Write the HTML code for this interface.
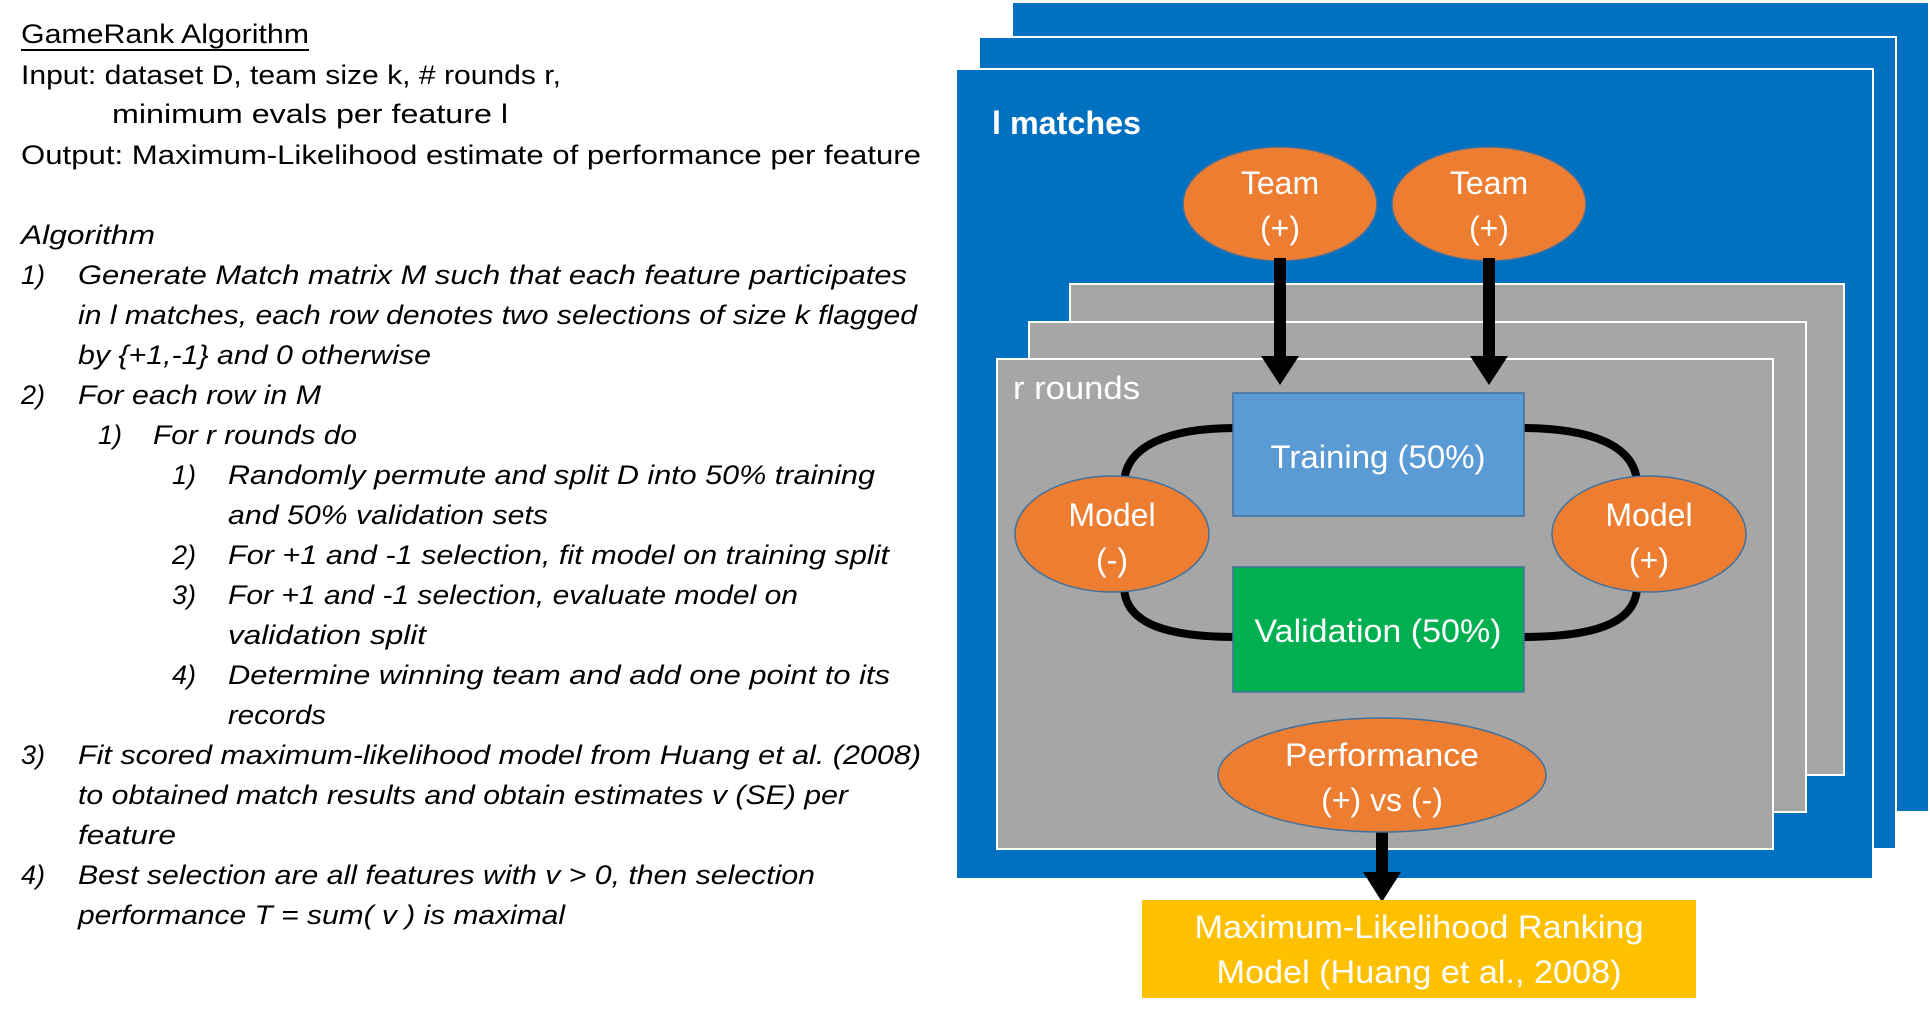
<!DOCTYPE html>
<html><head><meta charset="utf-8"><style>
html,body{margin:0;padding:0;background:#fff;width:1930px;height:1017px;overflow:hidden}
svg{display:block}
text{font-family:"Liberation Sans",sans-serif}
.l{font-size:27px;fill:#000}
.i{font-style:italic}
.w{fill:#fff;font-size:32px;text-anchor:middle}
</style></head><body>
<svg width="1930" height="1017" viewBox="0 0 1930 1017" xmlns="http://www.w3.org/2000/svg">
<g class="l">
<text x="21" y="43" textLength="288" lengthAdjust="spacingAndGlyphs">GameRank Algorithm</text>
<line x1="21" y1="50" x2="309" y2="50" stroke="#000" stroke-width="2"/>
<text x="21" y="84" textLength="540" lengthAdjust="spacingAndGlyphs">Input: dataset D, team size k, # rounds r,</text>
<text x="112" y="123" textLength="396" lengthAdjust="spacingAndGlyphs">minimum evals per feature l</text>
<text x="21" y="164" textLength="900" lengthAdjust="spacingAndGlyphs">Output: Maximum-Likelihood estimate of performance per feature</text>
<g class="i">
<text x="21" y="244" textLength="134" lengthAdjust="spacingAndGlyphs">Algorithm</text>
<text x="21" y="284">1)</text><text x="78" y="284" textLength="829" lengthAdjust="spacingAndGlyphs">Generate Match matrix M such that each feature participates</text>
<text x="78" y="324" textLength="839" lengthAdjust="spacingAndGlyphs">in l matches, each row denotes two selections of size k flagged</text>
<text x="78" y="364" textLength="353" lengthAdjust="spacingAndGlyphs">by {+1,-1} and 0 otherwise</text>
<text x="21" y="404">2)</text><text x="78" y="404" textLength="243" lengthAdjust="spacingAndGlyphs">For each row in M</text>
<text x="98" y="444">1)</text><text x="153" y="444" textLength="204" lengthAdjust="spacingAndGlyphs">For r rounds do</text>
<text x="172" y="484">1)</text><text x="228" y="484" textLength="647" lengthAdjust="spacingAndGlyphs">Randomly permute and split D into 50% training</text>
<text x="228" y="524" textLength="320" lengthAdjust="spacingAndGlyphs">and 50% validation sets</text>
<text x="172" y="564">2)</text><text x="228" y="564" textLength="661" lengthAdjust="spacingAndGlyphs">For +1 and -1 selection, fit model on training split</text>
<text x="172" y="604">3)</text><text x="228" y="604" textLength="570" lengthAdjust="spacingAndGlyphs">For +1 and -1 selection, evaluate model on</text>
<text x="228" y="644" textLength="198" lengthAdjust="spacingAndGlyphs">validation split</text>
<text x="172" y="684">4)</text><text x="228" y="684" textLength="662" lengthAdjust="spacingAndGlyphs">Determine winning team and add one point to its</text>
<text x="228" y="724" textLength="98" lengthAdjust="spacingAndGlyphs">records</text>
<text x="21" y="764">3)</text><text x="78" y="764" textLength="843" lengthAdjust="spacingAndGlyphs">Fit scored maximum-likelihood model from Huang et al. (2008)</text>
<text x="78" y="804" textLength="770" lengthAdjust="spacingAndGlyphs">to obtained match results and obtain estimates v (SE) per</text>
<text x="78" y="844" textLength="98" lengthAdjust="spacingAndGlyphs">feature</text>
<text x="21" y="884">4)</text><text x="78" y="884" textLength="737" lengthAdjust="spacingAndGlyphs">Best selection are all features with v &gt; 0, then selection</text>
<text x="78" y="924" textLength="487" lengthAdjust="spacingAndGlyphs">performance T = sum( v ) is maximal</text>
</g></g>
<rect x="1012" y="2" width="917" height="810" fill="#0070c0" stroke="#fff" stroke-width="2"/>
<rect x="979" y="37" width="917" height="812" fill="#0070c0" stroke="#fff" stroke-width="2"/>
<rect x="956" y="69" width="917" height="810" fill="#0070c0" stroke="#fff" stroke-width="2"/>
<text x="992" y="134" fill="#fff" font-size="32" font-weight="bold" textLength="149" lengthAdjust="spacingAndGlyphs">l matches</text>
<rect x="1070" y="284" width="774" height="491" fill="#a6a6a6" stroke="#fff" stroke-width="2"/>
<rect x="1029" y="322" width="777" height="490" fill="#a6a6a6" stroke="#fff" stroke-width="2"/>
<rect x="997" y="359" width="776" height="490" fill="#a6a6a6" stroke="#fff" stroke-width="2"/>
<text x="1013" y="399" fill="#fff" font-size="32" textLength="127" lengthAdjust="spacingAndGlyphs">r rounds</text>
<ellipse cx="1280" cy="204" rx="97" ry="57" fill="#ed7d31" stroke="#41719c" stroke-width="1.5"/>
<ellipse cx="1489" cy="204" rx="97" ry="57" fill="#ed7d31" stroke="#41719c" stroke-width="1.5"/>
<text class="w" x="1280" y="194">Team</text><text class="w" x="1280" y="239">(+)</text>
<text class="w" x="1489" y="194">Team</text><text class="w" x="1489" y="239">(+)</text>
<g fill="#000">
<rect x="1274" y="258" width="12" height="100"/><polygon points="1261,356 1299,356 1280,385"/>
<rect x="1483" y="258" width="12" height="100"/><polygon points="1470,356 1508,356 1489,385"/>
<rect x="1376" y="832" width="12" height="42"/><polygon points="1363,872 1401,872 1382,902"/>
</g>
<g fill="none" stroke="#000" stroke-width="8">
<path d="M1236,428 C1170,428 1125,445 1124,484"/>
<path d="M1124,587 C1125,625 1170,637 1236,637"/>
<path d="M1521,428 C1590,428 1636,445 1637,484"/>
<path d="M1637,587 C1636,625 1590,637 1521,637"/>
</g>
<rect x="1233" y="393" width="291" height="123" fill="#5b9bd5" stroke="#41719c" stroke-width="1.5"/>
<text class="w" x="1378" y="468" textLength="215" lengthAdjust="spacingAndGlyphs">Training (50%)</text>
<rect x="1233" y="567" width="291" height="125" fill="#00b050" stroke="#41719c" stroke-width="1.5"/>
<text class="w" x="1378" y="642" textLength="247" lengthAdjust="spacingAndGlyphs">Validation (50%)</text>
<ellipse cx="1112" cy="534" rx="97" ry="58" fill="#ed7d31" stroke="#41719c" stroke-width="1.5"/>
<ellipse cx="1649" cy="534" rx="97" ry="58" fill="#ed7d31" stroke="#41719c" stroke-width="1.5"/>
<text class="w" x="1112" y="526">Model</text><text class="w" x="1112" y="571">(-)</text>
<text class="w" x="1649" y="526">Model</text><text class="w" x="1649" y="571">(+)</text>
<ellipse cx="1382" cy="775" rx="164" ry="57" fill="#ed7d31" stroke="#41719c" stroke-width="1.5"/>
<text class="w" x="1382" y="766" textLength="194" lengthAdjust="spacingAndGlyphs">Performance</text><text class="w" x="1382" y="811">(+) vs (-)</text>
<rect x="1142" y="900" width="554" height="98" fill="#ffc000"/>
<text class="w" x="1419" y="938" textLength="449" lengthAdjust="spacingAndGlyphs">Maximum-Likelihood Ranking</text>
<text class="w" x="1419" y="983" textLength="405" lengthAdjust="spacingAndGlyphs">Model (Huang et al., 2008)</text>
</svg>
</body></html>
